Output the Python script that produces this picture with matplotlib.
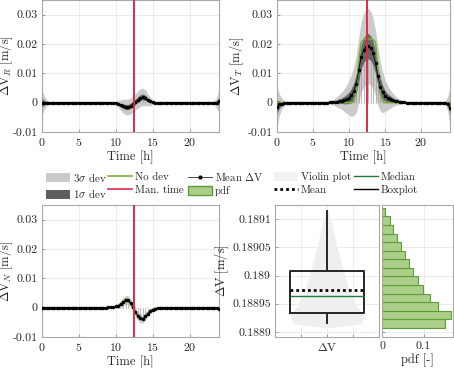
import matplotlib
matplotlib.use("Agg")
import matplotlib.pyplot as plt
import numpy as np
from matplotlib.legend_handler import HandlerLine2D
from matplotlib.lines import Line2D
from matplotlib.patches import Patch
from matplotlib.ticker import FixedLocator, FuncFormatter

# ---- data -------------------------------------------------------------
time_h = np.linspace(0.0, 24.0, 73)  # 20 min sampling
man_time_h = 12.5

# transverse component
dv_t_mean = np.array(
    [-0.0015, -0.0006, -0.0003, -0.0002, -0.0001] + [0.0] * 17
    + [0.0001, 0.0001, 0.0002, 0.0003, 0.0005, 0.0007, 0.0009, 0.0012,
       0.0017, 0.0025, 0.0040, 0.0065, 0.0110, 0.0155, 0.0178, 0.0190,
       0.0193, 0.0186, 0.0168, 0.0135, 0.0090, 0.0055, 0.0035, 0.0023,
       0.0017, 0.0013, 0.0010, 0.0007, 0.0005, 0.0003, 0.0002, 0.0001]
    + [0.0] * 16 + [-0.0001, -0.0003, -0.0017])
dv_t_sd = np.array(
    [0.0023, 0.0012, 0.0006, 0.0003, 0.0001] + [0.0] * 16
    + [0.0001, 0.0002, 0.0003, 0.0004, 0.0006, 0.0008, 0.0010, 0.0013,
       0.0016, 0.0020, 0.0024, 0.0028, 0.0033, 0.0037, 0.0040, 0.0042,
       0.0043, 0.0043, 0.0042, 0.0040, 0.0037, 0.0033, 0.0028, 0.0023,
       0.0018, 0.0014, 0.0011, 0.0008, 0.0006, 0.0004, 0.0003, 0.0002,
       0.0001]
    + [0.0] * 16 + [0.0002, 0.0008, 0.0022])
dv_t_nodev = np.array(
    [0.0] * 32
    + [0.0003, 0.0040, 0.0140, 0.0205, 0.0215, 0.0217, 0.0218, 0.0217,
       0.0215, 0.0205, 0.0120, 0.0030, 0.0003]
    + [0.0] * 28)

# radial component
dv_r_mean = np.array(
    [0.0] * 29
    + [-0.0001, -0.0002, -0.0004, -0.0008, -0.0012, -0.0015, -0.0015,
       -0.0011, -0.0005, 0.0003, 0.0010, 0.0017, 0.0020, 0.0017, 0.0010,
       0.0004, 0.0001]
    + [0.0] * 26 + [0.0005])
dv_r_sd = np.array(
    [0.0015, 0.0007, 0.0003, 0.0001] + [0.0] * 25
    + [0.0001, 0.0002, 0.0004, 0.0006, 0.0008, 0.0009, 0.0009, 0.0009,
       0.0009, 0.0009, 0.0010, 0.0010, 0.0010, 0.0009, 0.0007, 0.0005,
       0.0003, 0.0001]
    + [0.0] * 23 + [0.0002, 0.0006, 0.0013])
dv_r_nodev = np.array(
    [0.0] * 30
    + [-0.0002, -0.0005, -0.0009, -0.0014, -0.0017, -0.0016, -0.0011,
       -0.0004, 0.0004, 0.0011, 0.0018, 0.0021, 0.0017, 0.0009, 0.0003]
    + [0.0] * 28)

# normal component
dv_n_mean = np.array(
    [0.0] * 27
    + [0.0001, 0.0001, 0.0002, 0.0004, 0.0007, 0.0012, 0.0020, 0.0027,
       0.0026, 0.0015, 0.0001, -0.0015, -0.0028, -0.0036, -0.0038, -0.0030,
       -0.0020, -0.0012, -0.0007, -0.0004, -0.0002, -0.0001]
    + [0.0] * 23 + [-0.0003])
dv_n_sd = np.array(
    [0.0003, 0.0001] + [0.0] * 26
    + [0.0001, 0.0001, 0.0002, 0.0003, 0.0004, 0.0005, 0.0005, 0.0005,
       0.0005, 0.0005, 0.0005, 0.0005, 0.0005, 0.0005, 0.0005, 0.0004,
       0.0003, 0.0002, 0.0001]
    + [0.0] * 25 + [0.0002])
dv_n_nodev = np.array(
    [0.0] * 30
    + [0.0003, 0.0007, 0.0013, 0.0022, 0.0030, 0.0029, 0.0016, 0.0,
       -0.0017, -0.0030, -0.0039, -0.0040, -0.0031, -0.0020, -0.0011,
       -0.0005, -0.0002]
    + [0.0] * 26)

# total delta-v distribution
dv_q1, dv_median, dv_q3 = 0.188934, 0.188963, 0.189008
dv_mean = 0.188975
dv_min, dv_max = 0.188916, 0.189115
pdf_lo, pdf_hi = 0.188907, 0.189120
pdf_values = np.array([0.152, 0.165, 0.135, 0.116, 0.098, 0.086, 0.075,
                       0.064, 0.055, 0.045, 0.035, 0.027, 0.019, 0.0065])

# ---- style ------------------------------------------------------------
plt.rcParams.update({
    "font.family": "cmr10",
    "mathtext.fontset": "cm",
    "axes.unicode_minus": False,
    "axes.formatter.use_mathtext": True,
    "font.size": 8.5,
})

GREEN = "#77ac30"
RED = "#dc2b4d"
BAND3 = "#cbcbcb"
BAND1 = "#666666"
PDF_FACE = "#a9cf88"
PDF_EDGE = "#5e9c3a"
MEDIAN = "#217a35"
VIOLIN = "#efefef"
TEXT = "#262626"

W, H = 454, 368
fig = plt.figure(figsize=(W / 100, H / 100), dpi=100)


def px_axes(x0, y0, x1, y1):
    return fig.add_axes([x0 / W, 1 - y1 / H, (x1 - x0) / W, (y1 - y0) / H])


def style_axes(ax):
    for spine in ax.spines.values():
        spine.set_color("#a8a8a8")
        spine.set_linewidth(0.8)
    ax.tick_params(direction="in", length=2.5, width=0.6, color="#8c8c8c",
                   labelcolor=TEXT, pad=3, labelsize=8.5)
    ax.grid(True, color="#e4e4e4", linewidth=0.5)
    ax.set_axisbelow(True)


def fmt_g(v, _pos):
    return f"{v:g}"


def draw_time_panel(ax, mean, sd, nodev, ylabel, label_x):
    ax.fill_between(time_h, mean - 3 * sd, mean + 3 * sd, color=BAND3,
                    linewidth=0, zorder=1)
    stems = np.abs(mean) > 0.0015
    ax.vlines(time_h[stems], 0, mean[stems], color="#a0a0a0", linewidth=0.5,
              zorder=2)
    ax.fill_between(time_h, mean - sd, mean + sd, color=BAND1, linewidth=0,
                    zorder=3)
    ax.plot(time_h, nodev, color=GREEN, linewidth=1.1, zorder=4)
    ax.plot(time_h, mean, color="k", linewidth=0.6, marker=".", markersize=3,
            zorder=5)
    ax.axvline(man_time_h, color=RED, linewidth=1.4, zorder=6)
    ax.set_xlim(0, 24)
    ax.set_ylim(-0.01, 0.035)
    ax.xaxis.set_major_locator(FixedLocator([0, 5, 10, 15, 20]))
    ax.yaxis.set_major_locator(FixedLocator([-0.01, 0, 0.01, 0.02, 0.03]))
    ax.yaxis.set_major_formatter(FuncFormatter(fmt_g))
    ax.set_xlabel("Time [h]", fontsize=9, color=TEXT, labelpad=2)
    ax.set_ylabel(ylabel, fontsize=9, color=TEXT)
    ax.yaxis.set_label_coords(label_x, 0.5)
    style_axes(ax)


ax_r = px_axes(42, 0, 219, 132)
draw_time_panel(ax_r, dv_r_mean, dv_r_sd, dv_r_nodev,
                r"$\Delta$V$_R$ [m/s]", -0.15)
ax_t = px_axes(277, 0, 450, 132)
draw_time_panel(ax_t, dv_t_mean, dv_t_sd, dv_t_nodev,
                r"$\Delta$V$_T$ [m/s]", -0.18)
ax_n = px_axes(42, 205, 219, 337)
draw_time_panel(ax_n, dv_n_mean, dv_n_sd, dv_n_nodev,
                r"$\Delta$V$_N$ [m/s]", -0.15)

# ---- violin / box plot --------------------------------------------------
edges = np.linspace(pdf_lo, pdf_hi, len(pdf_values) + 1)
centers = 0.5 * (edges[:-1] + edges[1:])
half_width = pdf_values / pdf_values.max() * 0.355
vy = np.concatenate([[pdf_lo], centers, [pdf_hi]])
vw = np.concatenate([[0.0], half_width, [0.0]])

ylim_dv = (0.188891, 0.189125)
yticks_dv = [0.1889, 0.18895, 0.189, 0.18905, 0.1891]

ax_v = px_axes(275, 205, 379, 337)
ax_v.fill_betweenx(vy, 1 - vw, 1 + vw, color=VIOLIN, linewidth=0, zorder=1)
box_stats = [{
    "med": dv_median, "q1": dv_q1, "q3": dv_q3, "mean": dv_mean,
    "whislo": dv_min, "whishi": dv_max, "fliers": [],
}]
ax_v.bxp(box_stats, positions=[1], widths=0.71, showmeans=True,
         meanline=True, showcaps=False, showfliers=False,
         boxprops=dict(color="#262626", linewidth=1.4),
         whiskerprops=dict(color="#262626", linewidth=1.4),
         medianprops=dict(color=MEDIAN, linewidth=1.0),
         meanprops=dict(color="k", linewidth=2.0, linestyle=(0, (1, 1.1))),
         zorder=3)
ax_v.set_xlim(0.5, 1.5)
ax_v.set_ylim(*ylim_dv)
ax_v.xaxis.set_major_locator(FixedLocator([0.75, 1.0, 1.25]))
ax_v.set_xticklabels(["", r"$\Delta$V", ""])
ax_v.yaxis.set_major_locator(FixedLocator(yticks_dv))
ax_v.yaxis.set_major_formatter(FuncFormatter(fmt_g))
ax_v.set_ylabel(r"$\Delta$V [m/s]", fontsize=9, color=TEXT)
ax_v.yaxis.set_label_coords(-0.42, 0.5)
style_axes(ax_v)

ax_h = px_axes(382, 205, 453, 337)
ax_h.barh(centers, pdf_values, height=edges[1] - edges[0], color=PDF_FACE,
          edgecolor=PDF_EDGE, linewidth=0.8, zorder=2)
ax_h.set_xlim(0, 0.171)
ax_h.set_ylim(*ylim_dv)
ax_h.xaxis.set_major_locator(FixedLocator([0, 0.1]))
ax_h.xaxis.set_major_formatter(FuncFormatter(fmt_g))
ax_h.yaxis.set_major_locator(FixedLocator(yticks_dv))
ax_h.set_yticklabels([])
ax_h.set_xlabel("pdf [-]", fontsize=9, color=TEXT, labelpad=2)
style_axes(ax_h)


# ---- legends --------------------------------------------------------------
class RightDotHandler(HandlerLine2D):
    """Line handle with its marker drawn near the right end."""

    def get_xdata(self, legend, xdescent, ydescent, width, height, fontsize):
        xdata = np.array([-xdescent, -xdescent + width])
        return xdata, np.array([-xdescent + 0.72 * width])


mean_handle = Line2D([], [], color="k", linewidth=0.5, marker=".",
                     markersize=4, label=r"Mean $\Delta$V")
# (x of the label text in px, handles)
legend_columns = [
    (73, [Patch(facecolor=BAND3, label=r"3$\sigma$ dev"),
          Patch(facecolor="#5e5e5e", label=r"1$\sigma$ dev")]),
    (135, [Line2D([], [], color=GREEN, linewidth=1.1, label="No dev"),
           Line2D([], [], color=RED, linewidth=1.2, label="Man. time")]),
    (215, [mean_handle,
           Patch(facecolor=PDF_FACE, edgecolor=PDF_EDGE, label="pdf")]),
    (301, [Patch(facecolor="#f3f3f3", label="Violin plot"),
           Line2D([], [], color="k", linewidth=2.0, linestyle=(0, (1, 1.1)),
                  label="Mean")]),
    (381, [Line2D([], [], color=MEDIAN, linewidth=1.0, label="Median"),
           Line2D([], [], color="k", linewidth=1.0, label="Boxplot")]),
]
legends = []
for x_px, handles in legend_columns:
    leg = fig.legend(handles=handles, frameon=False, fontsize=7.8,
                     handlelength=2.15, handleheight=0.9, handletextpad=0.3,
                     labelspacing=0.3, borderpad=0, borderaxespad=0,
                     loc="upper left", labelcolor=TEXT,
                     handler_map={mean_handle: RightDotHandler()},
                     bbox_to_anchor=(x_px / W, 1 - 170 / H))
    legends.append((x_px, leg))

# shift every legend column so its text starts where the reference has it
fig.canvas.draw()
renderer = fig.canvas.get_renderer()
for x_px, leg in legends:
    text_x0 = leg.get_texts()[0].get_window_extent(renderer).x0
    row1 = leg.get_texts()[0].get_window_extent(renderer)
    row1_mid = H - 0.5 * (row1.y0 + row1.y1)
    dx = x_px - text_x0
    dy = 177 - row1_mid
    anchor_x = x_px / W + (dx - (x_px - x_px)) / W
    leg.set_bbox_to_anchor(((x_px + dx) / W, 1 - (170 + dy) / H),
                           transform=fig.transFigure)

fig.savefig("out.png", dpi=100)
